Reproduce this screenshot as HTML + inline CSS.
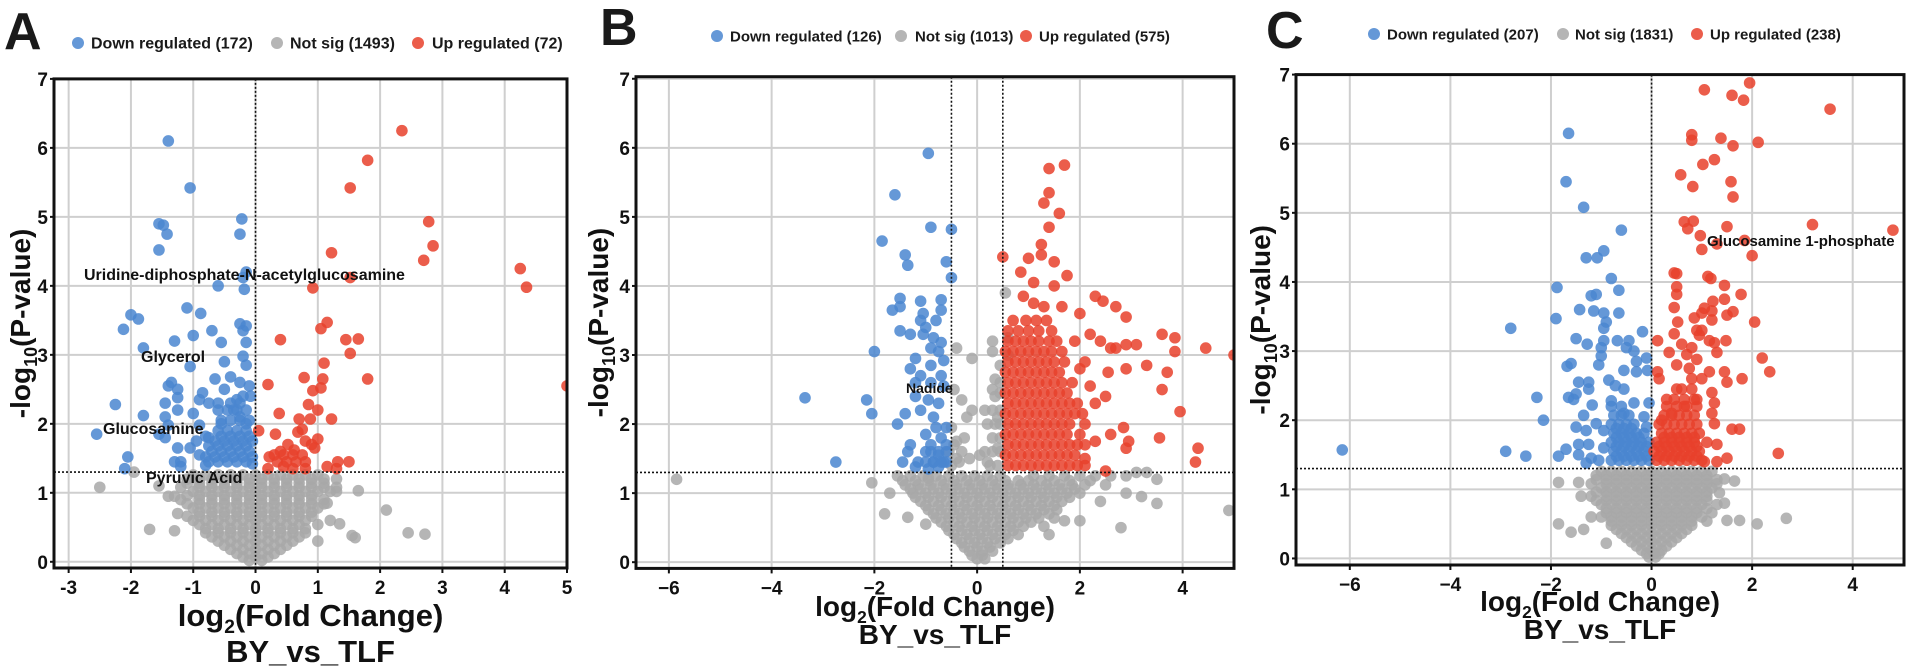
<!DOCTYPE html>
<html><head><meta charset="utf-8">
<style>
html,body{margin:0;padding:0;background:#fff;}
svg{display:block;font-family:"Liberation Sans",Arial,sans-serif;font-weight:bold;}
</style></head>
<body>
<svg id="fig" width="1908" height="669" viewBox="0 0 1908 669" xmlns="http://www.w3.org/2000/svg"></svg>
<script>
// ---------- DATA (points as [x,y]; dense rows as [y, x1, x2, ...]) ----------
const grayA_pts = [[-2.5,1.08],[-1.95,1.3],[-1.55,1.1],[-1.7,0.47],[-1.3,0.95],[-1.3,0.45],[1.3,1.2],[1.3,1.02],[1.65,1.03],[2.1,0.75],[2.45,0.42],[2.72,0.4],[1.55,0.38],[1.6,0.35],[1.2,0.6],[1.0,0.3],[1.15,0.85],[1.35,0.55],[-1.4,0.95],[-1.25,0.7]];
const grayA_rows = [
[1.26,-1.0,-0.8,-0.6,-0.4,-0.2,0,0.2,0.4,0.6,0.8,1.0],
[1.14,-1.1,-0.9,-0.7,-0.5,-0.3,-0.1,0.1,0.3,0.5,0.7,0.9,1.1],
[1.02,-1.0,-0.8,-0.6,-0.4,-0.2,0,0.2,0.4,0.6,0.8,1.0,1.2],
[0.9,-1.2,-0.9,-0.7,-0.5,-0.3,-0.1,0.1,0.3,0.5,0.7,0.9,1.1],
[0.78,-1.0,-0.8,-0.6,-0.4,-0.2,0,0.2,0.4,0.6,0.8,1.0],
[0.66,-1.1,-0.9,-0.7,-0.5,-0.3,-0.1,0.1,0.3,0.5,0.7,0.9],
[0.54,-0.9,-0.7,-0.5,-0.3,-0.1,0.1,0.3,0.5,0.7,1.0],
[0.42,-0.8,-0.6,-0.4,-0.2,0,0.2,0.4,0.6,0.8],
[0.3,-0.6,-0.4,-0.2,0,0.2,0.4,0.6],
[0.18,-0.4,-0.2,0,0.2,0.4],
[0.07,-0.2,0,0.2],
[1.2,-1.1,-0.9,-0.7,-0.5,-0.3,-0.1,0.1,0.3,0.5,0.7,0.9,1.1],
[1.08,-1.2,-0.9,-0.7,-0.5,-0.3,-0.1,0.1,0.3,0.5,0.7,0.9,1.1,1.3],
[0.96,-1.1,-0.9,-0.7,-0.5,-0.3,-0.1,0.1,0.3,0.5,0.7,0.9],
[0.84,-1.1,-0.9,-0.7,-0.5,-0.3,-0.1,0.1,0.3,0.5,0.7,0.9,1.1],
[0.72,-0.9,-0.7,-0.5,-0.3,-0.1,0.1,0.3,0.5,0.7,0.9],
[0.6,-1.0,-0.8,-0.6,-0.4,-0.2,0,0.2,0.4,0.6,0.8],
[0.48,-0.8,-0.6,-0.4,-0.2,0,0.2,0.4,0.6,0.8],
[0.36,-0.7,-0.5,-0.3,-0.1,0.1,0.3,0.5,0.7],
[0.24,-0.5,-0.3,-0.1,0.1,0.3,0.5],
[0.12,-0.3,-0.1,0.1,0.3],
[0.02,-0.1,0.1]];
const blueA_pts = [[-1.4,6.1],[-1.05,5.42],[-1.55,4.9],[-1.48,4.88],[-1.42,4.75],[-1.55,4.52],[-0.22,4.97],[-0.25,4.75],[-0.15,4.2],[-0.6,4.0],[-0.18,3.95],[-0.2,4.12],[-1.1,3.68],[-0.88,3.6],[-2.0,3.58],[-1.88,3.52],[-2.12,3.37],[-0.7,3.35],[-1.0,3.28],[-0.55,3.18],[-0.25,3.45],[-0.15,3.42],[-0.2,3.35],[-0.15,3.18],[-1.3,3.2],[-1.8,3.1],[-1.05,2.83],[-0.5,2.9],[-0.2,2.98],[-0.15,2.85],[-0.4,2.68],[-0.65,2.65],[-0.25,2.6],[-1.35,2.6],[-1.4,2.55],[-1.25,2.5],[-0.5,2.5],[-0.85,2.45],[-0.9,2.35],[-0.75,2.3],[-0.3,2.35],[-1.25,2.38],[-2.25,2.28],[-1.45,2.3],[-0.6,2.2],[-0.35,2.2],[-1.0,2.15],[-1.8,2.12],[-1.45,2.1],[-1.25,2.2],[-1.4,1.98],[-0.9,1.98],[-0.55,2.0],[-0.25,2.1],[-0.15,2.0],[-1.55,1.85],[-1.45,1.8],[-2.55,1.85],[-0.95,1.75],[-0.75,1.8],[-1.05,1.65],[-1.25,1.65],[-2.05,1.52],[-1.3,1.45],[-1.2,1.45],[-0.9,1.55],[-2.1,1.35],[-1.2,1.38],[-0.8,1.4],[-0.05,1.42]];
const blueA_rows = [
[1.45,-0.75,-0.6,-0.45,-0.3,-0.15],
[1.6,-0.7,-0.55,-0.4,-0.25,-0.1],
[1.75,-0.65,-0.5,-0.35,-0.2,-0.05],
[1.9,-0.6,-0.45,-0.3,-0.15],
[2.05,-0.55,-0.4,-0.25,-0.1],
[2.2,-0.45,-0.3,-0.15],
[2.4,-0.2,-0.08],
[2.55,-0.1],
[1.52,-0.8,-0.65,-0.5,-0.35,-0.2,-0.05],
[1.68,-0.75,-0.6,-0.45,-0.3,-0.15],
[1.82,-0.8,-0.55,-0.4,-0.25,-0.1],
[2.3,-0.6,-0.4,-0.25]];
const redA_pts = [[2.35,6.25],[1.8,5.82],[1.52,5.42],[2.78,4.93],[2.85,4.58],[2.7,4.37],[1.22,4.48],[1.52,4.12],[0.92,3.97],[4.25,4.25],[4.35,3.98],[5.0,2.55],[1.15,3.47],[1.05,3.38],[0.4,3.22],[1.45,3.22],[1.65,3.23],[1.52,3.02],[1.8,2.65],[1.1,2.88],[0.78,2.67],[1.08,2.65],[0.2,2.57],[0.92,2.48],[1.05,2.52],[0.85,2.28],[1.0,2.2],[0.38,2.15],[1.22,2.07],[0.7,2.07],[0.88,2.07],[0.05,1.9],[0.32,1.85],[0.68,1.88],[0.75,1.92],[0.8,1.75],[1.0,1.78],[0.9,1.7],[0.52,1.7],[0.4,1.6],[0.62,1.62],[0.95,1.65],[0.22,1.52],[0.2,1.35],[0.45,1.38],[0.6,1.35],[0.8,1.35],[1.15,1.38],[1.32,1.45],[1.5,1.45],[1.3,1.35]];
const redA_rows = [[1.45,0.35,0.5,0.65,0.8],[1.55,0.3,0.45,0.6,0.75]];

const grayB_pts = [[-5.85,1.2],[-2.05,1.15],[-1.8,0.7],[-1.35,0.65],[-0.95,1.22],[0.55,3.9],[0.3,3.05],[0.6,3.0],[-0.4,3.1],[-0.1,2.95],[0.3,2.5],[0.15,2.2],[0.4,2.1],[-0.2,2.1],[-0.4,1.75],[0.4,1.65],[-0.35,1.45],[0.2,1.45],[0.05,1.55],[-0.3,1.6],[0.3,1.6],[-0.25,1.8],[0.35,2.0],[0.45,2.2],[0.45,2.45],[0.35,2.65],[0.45,2.85],[0.3,3.2],[0.6,3.25],[-0.45,2.5],[-0.3,2.35],[-0.1,2.2],[-0.5,1.95],[-0.55,1.6],[-0.5,1.4],[3.1,1.3],[3.3,1.3],[3.5,1.2],[4.9,0.75],[2.9,1.0],[3.2,0.95],[2.0,0.6],[2.8,0.5],[3.5,0.85],[-1.7,1.0],[-1.0,0.55],[1.4,0.4],[1.7,0.6]];
const grayB_rows = [
[1.25,-1.55,-1.3,-1.05,-0.8,-0.55,-0.3,-0.05,0.2,0.45,1.1,1.4,1.7,2.0,2.3,2.6,2.9],
[1.12,-1.4,-1.15,-0.9,-0.65,-0.4,-0.15,0.1,0.35,0.6,0.85,1.1,1.35,1.6,1.85,2.1,2.5],
[1.0,-1.25,-1.0,-0.75,-0.5,-0.25,0,0.25,0.5,0.75,1.0,1.25,1.5,1.75,2.0],
[0.88,-1.1,-0.85,-0.6,-0.35,-0.1,0.15,0.4,0.65,0.9,1.15,1.4,1.65,2.4],
[0.76,-0.95,-0.7,-0.45,-0.2,0.05,0.3,0.55,0.8,1.05,1.3,1.55],
[0.64,-0.8,-0.55,-0.3,-0.05,0.2,0.45,0.7,0.95,1.2,1.5],
[0.52,-0.6,-0.35,-0.1,0.15,0.4,0.65,0.9,1.3],
[0.4,-0.45,-0.2,0.05,0.3,0.55,0.8],
[0.28,-0.3,-0.05,0.2,0.45],
[0.16,-0.15,0.1,0.3],
[0.05,0,0.15],
[1.18,-1.45,-1.2,-0.95,-0.7,-0.45,-0.2,0.05,0.3,0.55,0.8,1.0,1.25,1.5,1.8,2.2],
[1.06,-1.3,-1.1,-0.85,-0.6,-0.35,-0.1,0.15,0.4,0.65,0.9,1.15,1.4,1.65,1.9],
[0.94,-1.2,-0.95,-0.7,-0.45,-0.2,0.05,0.3,0.55,0.8,1.05,1.3,1.55,1.8],
[0.82,-1.0,-0.75,-0.5,-0.25,0,0.25,0.5,0.75,1.0,1.25,1.5],
[0.7,-0.85,-0.6,-0.35,-0.1,0.15,0.4,0.65,0.9,1.15,1.4],
[0.58,-0.7,-0.45,-0.2,0.05,0.3,0.55,0.8,1.05],
[0.46,-0.55,-0.3,-0.05,0.2,0.45,0.7],
[0.34,-0.4,-0.15,0.1,0.35,0.6],
[0.22,-0.25,0,0.25],
[0.1,-0.1,0.1],
[1.4,0.25,0.4],[1.6,0.15,0.45],[1.8,0.3,0.45],[2.0,0.2,0.45],[2.2,0.3],[2.4,0.35],[2.6,0.45],[1.5,-0.15,-0.4],[1.7,-0.45]];
const blueB_pts = [[-0.95,5.92],[-1.6,5.32],[-0.9,4.85],[-0.5,4.82],[-1.85,4.65],[-1.4,4.45],[-1.35,4.3],[-0.6,4.35],[-0.5,4.12],[-1.5,3.82],[-1.1,3.78],[-0.7,3.8],[-1.65,3.65],[-1.5,3.7],[-1.05,3.6],[-0.7,3.65],[-0.8,3.5],[-1.1,3.5],[-1.0,3.4],[-1.5,3.35],[-1.3,3.3],[-0.85,3.25],[-1.05,3.3],[-0.7,3.18],[-0.9,3.1],[-0.75,3.05],[-2.0,3.05],[-1.2,2.95],[-0.65,2.92],[-0.9,2.85],[-1.3,2.8],[-1.1,2.7],[-0.7,2.7],[-0.9,2.6],[-0.65,2.55],[-1.2,2.6],[-3.35,2.38],[-2.15,2.35],[-1.2,2.4],[-0.95,2.35],[-0.75,2.3],[-2.05,2.15],[-1.4,2.15],[-1.1,2.2],[-0.85,2.1],[-1.55,2.0],[-0.8,1.95],[-0.6,1.95],[-1.0,1.85],[-0.7,1.8],[-1.3,1.7],[-0.9,1.7],[-0.6,1.7],[-1.35,1.6],[-1.0,1.6],[-0.75,1.55],[-2.75,1.45],[-1.45,1.45],[-1.15,1.45],[-0.85,1.45],[-0.65,1.45],[-1.2,1.38],[-0.75,1.38],[-0.95,1.35]];
const blueB_rows = [[1.45,-1.0,-0.85,-0.7,-0.6],[1.6,-0.9,-0.75,-0.6]];
const redB_pts = [[1.7,5.75],[1.4,5.7],[1.4,5.35],[1.3,5.2],[1.6,5.05],[1.4,4.85],[1.25,4.6],[1.25,4.45],[1.5,4.35],[0.5,4.42],[1.0,4.4],[0.85,4.2],[1.75,4.15],[1.1,4.05],[1.5,4.0],[0.9,3.85],[1.1,3.75],[1.3,3.7],[1.65,3.7],[2.3,3.85],[2.45,3.78],[2.7,3.7],[2.9,3.55],[2.0,3.6],[3.6,3.3],[3.85,3.25],[4.45,3.1],[5.0,3.0],[3.85,3.05],[2.4,3.2],[3.1,3.15],[2.7,3.1],[2.6,3.1],[2.9,3.15],[3.3,2.85],[3.7,2.75],[2.9,2.8],[2.55,2.75],[2.2,2.55],[3.6,2.5],[2.5,2.4],[3.95,2.18],[2.85,1.95],[2.6,1.85],[3.55,1.8],[2.3,1.75],[2.9,1.65],[2.95,1.75],[4.3,1.65],[4.25,1.45],[2.5,1.32],[2.1,1.5],[2.0,2.8],[2.3,2.3],[2.2,3.3],[1.9,3.2],[2.1,2.9]];
const redB_rows = [
[1.4,0.6,0.75,0.9,1.05,1.2,1.35,1.5,1.65,1.8,1.95,2.1],
[1.55,0.55,0.7,0.85,1.0,1.15,1.3,1.45,1.6,1.75,1.9],
[1.7,0.6,0.75,0.9,1.05,1.2,1.35,1.5,1.65,1.8,1.95,2.1],
[1.85,0.55,0.7,0.85,1.0,1.15,1.3,1.45,1.6,1.75,2.0],
[2.0,0.6,0.75,0.9,1.05,1.2,1.35,1.5,1.65,1.8,2.1],
[2.15,0.55,0.7,0.85,1.0,1.15,1.3,1.45,1.6,1.75,1.9,2.05],
[2.3,0.6,0.75,0.9,1.05,1.2,1.35,1.5,1.65,1.8,1.95],
[2.45,0.55,0.7,0.85,1.0,1.15,1.3,1.45,1.6,1.75],
[2.6,0.6,0.75,0.9,1.05,1.2,1.35,1.5,1.65,1.85],
[2.75,0.55,0.7,0.85,1.0,1.15,1.3,1.45,1.6],
[2.9,0.6,0.75,0.9,1.05,1.2,1.35,1.5,1.7],
[3.05,0.55,0.7,0.85,1.0,1.15,1.3,1.45,1.65],
[3.2,0.6,0.75,0.9,1.05,1.2,1.4,1.55],
[3.35,0.6,0.8,1.0,1.2,1.45],
[3.5,0.7,0.95,1.15,1.35]];

const grayC_pts = [[-1.85,1.1],[-1.45,1.1],[-1.85,0.5],[-1.6,0.38],[-1.35,0.42],[-0.9,0.22],[1.5,0.55],[1.75,0.55],[2.1,0.5],[2.68,0.58],[1.45,1.15],[1.65,1.12],[1.45,0.8],[1.35,0.95],[-1.4,0.9],[-1.2,0.6]];
const grayC_rows = [
[1.26,-1.0,-0.8,-0.6,-0.4,-0.2,0,0.2,0.4,0.6,0.8,1.0,1.2],
[1.14,-1.1,-0.9,-0.7,-0.5,-0.3,-0.1,0.1,0.3,0.5,0.7,0.9,1.1,1.3],
[1.02,-1.0,-0.8,-0.6,-0.4,-0.2,0,0.2,0.4,0.6,0.8,1.0,1.2],
[0.9,-1.2,-0.9,-0.7,-0.5,-0.3,-0.1,0.1,0.3,0.5,0.7,0.9,1.1],
[0.78,-1.0,-0.8,-0.6,-0.4,-0.2,0,0.2,0.4,0.6,0.8,1.0,1.3],
[0.66,-0.9,-0.7,-0.5,-0.3,-0.1,0.1,0.3,0.5,0.7,0.9,1.2],
[0.54,-0.8,-0.6,-0.4,-0.2,0,0.2,0.4,0.6,0.8,1.1],
[0.42,-0.7,-0.5,-0.3,-0.1,0.1,0.3,0.5,0.7],
[0.3,-0.5,-0.3,-0.1,0.1,0.3,0.5],
[0.18,-0.3,-0.1,0.1,0.3],
[0.07,-0.1,0.05,0.15],
[1.2,-1.1,-0.9,-0.7,-0.5,-0.3,-0.1,0.1,0.3,0.5,0.7,0.9,1.1],
[1.08,-1.2,-0.9,-0.7,-0.5,-0.3,-0.1,0.1,0.3,0.5,0.7,0.9,1.1,1.3],
[0.96,-1.1,-0.9,-0.7,-0.5,-0.3,-0.1,0.1,0.3,0.5,0.7,0.9,1.1],
[0.84,-1.1,-0.9,-0.7,-0.5,-0.3,-0.1,0.1,0.3,0.5,0.7,0.9,1.1],
[0.72,-0.9,-0.7,-0.5,-0.3,-0.1,0.1,0.3,0.5,0.7,0.9,1.1],
[0.6,-1.0,-0.8,-0.6,-0.4,-0.2,0,0.2,0.4,0.6,0.8,1.0],
[0.48,-0.8,-0.6,-0.4,-0.2,0,0.2,0.4,0.6,0.8],
[0.36,-0.6,-0.4,-0.2,0,0.2,0.4,0.6],
[0.24,-0.4,-0.2,0,0.2,0.4],
[0.12,-0.2,0,0.2],
[0.02,-0.05,0.08]];
const blueC_pts = [[-1.65,6.15],[-1.7,5.45],[-1.35,5.08],[-0.6,4.75],[-0.95,4.45],[-1.3,4.35],[-1.08,4.35],[-0.8,4.05],[-1.88,3.92],[-0.65,3.88],[-1.1,3.82],[-1.2,3.8],[-1.43,3.6],[-1.15,3.58],[-0.95,3.55],[-0.65,3.55],[-1.9,3.47],[-0.9,3.42],[-2.8,3.33],[-0.95,3.33],[-0.18,3.28],[-1.5,3.18],[-0.95,3.15],[-0.68,3.15],[-0.45,3.15],[-1.28,3.1],[-1.0,3.05],[-0.5,3.05],[-0.35,3.0],[-1.0,2.93],[-0.1,2.9],[-1.6,2.82],[-1.68,2.78],[-1.05,2.8],[-0.3,2.85],[-0.55,2.72],[-0.3,2.7],[-0.08,2.72],[-1.45,2.55],[-1.25,2.55],[-0.85,2.58],[-1.25,2.45],[-0.72,2.5],[-0.55,2.45],[-1.5,2.38],[-1.65,2.33],[-2.28,2.33],[-1.55,2.3],[-0.8,2.28],[-1.18,2.22],[-0.35,2.25],[-0.05,2.25],[-2.15,2.0],[-1.35,2.07],[-0.55,2.1],[-0.15,2.05],[-1.5,1.9],[-1.1,1.95],[-0.95,1.85],[-1.3,1.85],[-0.1,1.9],[-1.45,1.65],[-1.25,1.65],[-0.95,1.6],[-1.7,1.58],[-1.85,1.48],[-2.9,1.55],[-2.5,1.48],[-6.15,1.57],[-1.45,1.5],[-1.2,1.45],[-1.05,1.42],[-1.3,1.38]];
const blueC_rows = [
[1.42,-0.8,-0.65,-0.5,-0.35,-0.2,-0.05],
[1.55,-0.75,-0.6,-0.45,-0.3,-0.15],
[1.68,-0.8,-0.65,-0.5,-0.35,-0.2,-0.05],
[1.81,-0.75,-0.6,-0.45,-0.3,-0.15],
[1.94,-0.8,-0.65,-0.5,-0.35],
[2.07,-0.75,-0.6,-0.45],
[2.2,-0.8,-0.6],
[1.48,-0.7,-0.55,-0.4,-0.25,-0.1],
[1.62,-0.7,-0.55,-0.4,-0.25,-0.1],
[1.75,-0.7,-0.55,-0.4,-0.25],
[1.88,-0.7,-0.55,-0.4]];
const redC_pts = [[1.95,6.88],[1.05,6.78],[1.6,6.7],[1.83,6.63],[3.55,6.5],[0.8,6.13],[0.8,6.05],[1.38,6.08],[2.12,6.02],[1.62,5.97],[1.25,5.77],[1.02,5.7],[0.58,5.55],[1.58,5.45],[0.82,5.38],[1.62,5.23],[0.65,4.87],[0.83,4.88],[3.2,4.83],[4.8,4.75],[1.5,4.8],[0.72,4.77],[0.97,4.67],[1.85,4.6],[1.0,4.47],[1.3,4.55],[2.0,4.38],[0.5,4.12],[0.45,4.13],[1.12,4.08],[1.18,4.05],[0.5,3.93],[1.45,3.95],[0.5,3.82],[1.78,3.82],[1.45,3.75],[1.22,3.72],[1.05,3.62],[1.2,3.58],[0.45,3.63],[1.62,3.57],[1.5,3.52],[0.85,3.48],[1.0,3.55],[1.2,3.45],[2.05,3.42],[0.52,3.42],[0.9,3.3],[1.0,3.3],[0.45,3.25],[0.95,3.23],[1.15,3.15],[1.25,3.12],[1.48,3.15],[0.12,3.15],[0.6,3.1],[0.8,3.05],[1.3,2.98],[0.35,2.98],[0.7,2.95],[0.9,2.88],[2.2,2.9],[0.5,2.8],[0.75,2.75],[0.12,2.7],[1.15,2.7],[1.45,2.7],[2.35,2.7],[0.8,2.6],[0.15,2.6],[1.0,2.6],[1.8,2.6],[1.5,2.55],[0.6,2.45],[1.2,2.4],[0.3,2.3],[0.9,2.3],[1.25,2.25],[0.65,2.2],[0.4,2.1],[1.2,2.1],[1.25,1.95],[0.2,2.0],[1.6,1.87],[1.75,1.87],[2.52,1.52],[1.3,1.65],[1.5,1.45],[1.3,1.4],[1.05,1.4]];
const redC_rows = [
[1.42,0.1,0.25,0.4,0.55,0.7,0.85,1.0],
[1.55,0.05,0.2,0.35,0.5,0.65,0.8,0.95],
[1.68,0.1,0.25,0.4,0.55,0.7,0.85,1.1],
[1.81,0.2,0.35,0.5,0.65,0.8,0.95],
[1.94,0.15,0.3,0.45,0.6,0.75,0.9],
[2.07,0.25,0.4,0.55,0.7,0.85],
[2.2,0.3,0.5,0.7,0.9],
[1.48,0.15,0.3,0.45,0.6,0.75,0.9],
[1.62,0.15,0.3,0.45,0.6,0.75,0.9],
[1.75,0.25,0.4,0.55,0.7,0.85],
[2.3,0.45,0.65,0.85],
[2.45,0.5,0.8]];

const xTicksA = [-3,-2,-1,0,1,2,3,4,5];
const xTicksBC = [-6,-4,-2,0,2,4];
const yTicks = [0,1,2,3,4,5,6,7];
const countsA = [172,1493,72];
const countsB = [126,1013,575];
const countsC = [207,1831,238];
const pThreshold = 1.3;

// ---------- LAYOUT ----------
const NS = 'http://www.w3.org/2000/svg';
const svg = document.getElementById('fig');
const COL = {blue:'#4a86d0', gray:'#a8a8a8', red:'#e8412c'};
function mk(tag, attrs, parent){ const e=document.createElementNS(NS,tag); for(const k in attrs) e.setAttribute(k,attrs[k]); (parent||svg).appendChild(e); return e; }

const panels = [
 {id:'a', letter:'A', L:54, R:567, T:78.9, B:568, xmin:-3.235, xmax:5.0, ymin:-0.09, ymax:7.0, xt:xTicksA, vlines:[0], counts:countsA,
  lg:{y:43, fs:16, items:[[78,91],[277,290],[418,432]]}, letterX:4, letterY:49, ytx:20, xtitleFs:31, xty:[626,662],
  gray:[grayA_pts,grayA_rows], blue:[blueA_pts,blueA_rows], red:[redA_pts,redA_rows],
  labels:[['Uridine-diphosphate-N-acetylglucosamine',84,280,16],['Glycerol',141,362,16],['Glucosamine',103,434,16],['Pyruvic Acid',146,483,16]]},
 {id:'b', letter:'B', L:636, R:1234, T:76.7, B:568.4, xmin:-6.64, xmax:5.0, ymin:-0.09, ymax:7.03, xt:xTicksBC, vlines:[-0.5,0.5], counts:countsB,
  lg:{y:36, fs:15, items:[[717,730],[901,915],[1026,1039]]}, letterX:600, letterY:45, ytx:598, xtitleFs:28, xty:[616,644],
  gray:[grayB_pts,grayB_rows], blue:[blueB_pts,blueB_rows], red:[redB_pts,redB_rows],
  labels:[['Nadide',906,393,14]]},
 {id:'c', letter:'C', L:1296, R:1904, T:74.6, B:565, xmin:-7.07, xmax:5.02, ymin:-0.095, ymax:7.0, xt:xTicksBC, vlines:[0], counts:countsC,
  lg:{y:34, fs:15, items:[[1374,1387],[1563,1575],[1697,1710]]}, letterX:1266, letterY:48, ytx:1260, xtitleFs:28, xty:[611,639],
  gray:[grayC_pts,grayC_rows], blue:[blueC_pts,blueC_rows], red:[redC_pts,redC_rows],
  labels:[['Glucosamine 1-phosphate',1707,246,15]]}
];

panels.forEach(p=>{
  const g = mk('g',{});
  
  
  const sx = v => p.L + (v-p.xmin)/(p.xmax-p.xmin)*(p.R-p.L);
  const sy = v => p.B - (v-p.ymin)/(p.ymax-p.ymin)*(p.B-p.T);

  const lt = mk('text',{x:p.letterX,y:p.letterY,'font-size':52,fill:'#1a1a1a'},g);
  lt.textContent = p.letter;
  
  

  const names = ['Down regulated','Not sig','Up regulated'];
  const cols = [COL.blue, COL.gray, COL.red];
  const lg = mk('g',{},g);
  
  
  p.lg.items.forEach((it,i)=>{
    const e = mk('g',{},lg);
    
    
    mk('circle',{cx:it[0],cy:p.lg.y,r:6,fill:cols[i],'fill-opacity':0.85},e);
    const t = mk('text',{x:it[1],y:p.lg.y+5.5,'font-size':p.lg.fs,fill:'#1a1a1a'},e);
    t.textContent = names[i]+' ('+p.counts[i]+')';
  });

  const grid = mk('g',{stroke:'#cfcfcf','stroke-width':2},g);
  
  
  p.xt.forEach(v=>mk('line',{x1:sx(v),x2:sx(v),y1:p.T,y2:p.B},grid));
  yTicks.forEach(v=>mk('line',{x1:p.L,x2:p.R,y1:sy(v),y2:sy(v)},grid));

  const layers = [['gray',COL.gray],['blue',COL.blue],['red',COL.red]];
  const clipId = 'clip-'+p.id;
  const cp = mk('clipPath',{id:clipId},g); mk('rect',{x:p.L,y:p.T,width:p.R-p.L,height:p.B-p.T},cp);
  layers.forEach(([k,c])=>{
    const lg2 = mk('g',{fill:c,'fill-opacity':0.85,'clip-path':'url(#'+clipId+')'},g);
    
    
    const [pts,rows] = p[k];
    rows.forEach(r=>{ for(let i=1;i<r.length;i++){ const c1=mk('circle',{cx:sx(r[i]),cy:sy(r[0]),r:5.8},lg2);
      
       } });
    pts.forEach(q=>{ const c2=mk('circle',{cx:sx(q[0]),cy:sy(q[1]),r:5.8},lg2);
      
       });
  });

  const th = mk('line',{x1:p.L,x2:p.R,y1:sy(pThreshold),y2:sy(pThreshold),stroke:'#111','stroke-width':1.6,'stroke-dasharray':'2 2'},g);
  
  
  p.vlines.forEach(v=>{
    const vl = mk('line',{x1:sx(v),x2:sx(v),y1:p.T,y2:p.B,stroke:'#111','stroke-width':1.6,'stroke-dasharray':'2 2'},g);
    
    
  });

  p.labels.forEach(l=>{
    const t = mk('text',{x:l[1],y:l[2],'font-size':l[3],fill:'#111'},g);
    t.textContent = l[0];
    
    
  });

  const fr = mk('rect',{x:p.L,y:p.T,width:p.R-p.L,height:p.B-p.T,fill:'none',stroke:'#111','stroke-width':3},g);
  
  

  const ax = mk('g',{fill:'#111'},g);
  
  
  p.xt.forEach(v=>{
    mk('line',{x1:sx(v),x2:sx(v),y1:p.B,y2:p.B+5,stroke:'#111','stroke-width':2},ax);
    const t = mk('text',{x:sx(v),y:p.B+26,'font-size':19,'text-anchor':'middle'},ax);
    t.textContent = (v<0?'\u2212':'')+Math.abs(v);
    if(p.id==='a') t.textContent = (v<0?'-':'')+Math.abs(v);
    
    
  });
  yTicks.forEach(v=>{
    mk('line',{x1:p.L-4,x2:p.L,y1:sy(v),y2:sy(v),stroke:'#111','stroke-width':2},ax);
    const t = mk('text',{x:p.L-6,y:sy(v)+7,'font-size':19,'text-anchor':'end'},ax);
    t.textContent = v;
    
    
  });

  const cx = (p.L+p.R)/2;
  const xt = mk('text',{x:cx,y:p.xty[0],'font-size':p.xtitleFs,'text-anchor':'middle',fill:'#111'},g);
  xt.innerHTML = 'log<tspan font-size="'+(p.xtitleFs*0.62)+'" dy="7">2</tspan><tspan dy="-7">(Fold Change)</tspan>';
  
  
  const xs = mk('text',{x:cx,y:p.xty[1],'font-size':p.xtitleFs,'text-anchor':'middle',fill:'#111'},g);
  xs.textContent = 'BY_vs_TLF';
  
  
  const cy = (p.T+p.B)/2;
  const yt = mk('text',{x:0,y:0,'font-size':28,'text-anchor':'middle',fill:'#111',transform:'translate('+(p.ytx+10)+','+cy+') rotate(-90)'},g);
  yt.innerHTML = '-log<tspan font-size="18" dy="7">10</tspan><tspan dy="-7">(P-value)</tspan>';
  
  
});
</script>
</body></html>
